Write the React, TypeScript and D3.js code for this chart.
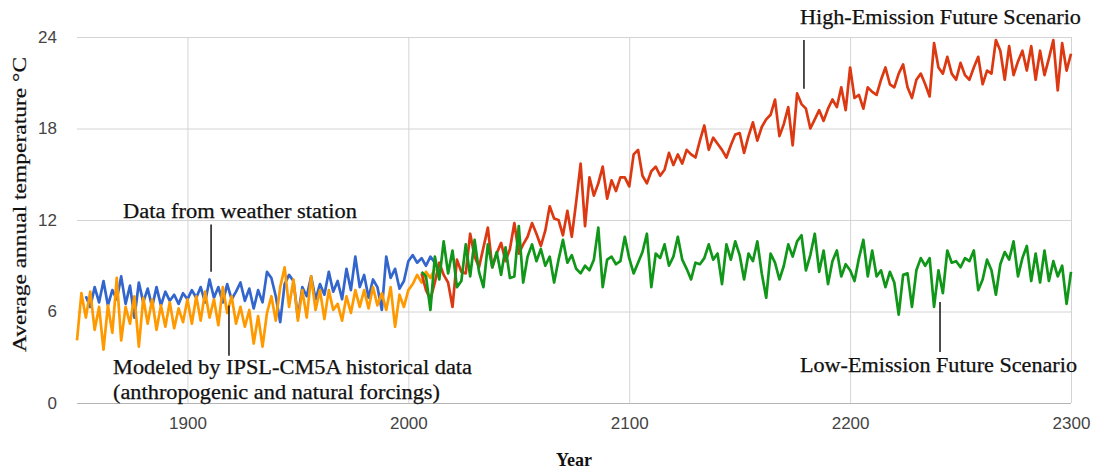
import React, { useEffect, useRef } from 'react';
import * as d3 from 'd3';

// yearly samples, every 2 years
const STEP = 2;
const MODELED_START = 1850;
const STATION_START = 1854;
const FUTURE_START = 2006;

// IPSL-CM5A historical run, 1850-2012
const modeled = [
  4.1, 7.2, 5.6, 7.3, 4.8, 6.3, 3.5, 6.4, 4.6, 8.2,
  4.1, 6.3, 5.2, 7.0, 3.7, 6.9, 5.2, 6.8, 4.8, 6.4,
  5.0, 6.6, 4.9, 6.2, 5.3, 6.8, 5.2, 7.0, 5.4, 7.3,
  5.6, 6.8, 5.1, 7.6, 5.9, 7.0, 5.2, 6.3, 5.0, 6.1,
  3.9, 5.7, 3.7, 5.9, 7.0, 5.4, 7.6, 8.9, 6.3, 8.1,
  5.4, 7.4, 5.6, 8.3, 6.1, 7.4, 5.5, 7.4, 6.1, 6.5,
  5.4, 7.0, 5.9, 7.4, 6.3, 7.4, 6.2, 7.6, 6.4, 7.2,
  6.1, 7.6, 5.0, 7.1, 6.3, 7.4, 7.8, 8.4, 7.9, 8.6,
  8.2, 8.8,
];

// weather station record, 1854-2012
const station = [
  7.0, 6.3, 7.6, 6.6, 8.0, 6.4, 7.4, 6.8, 8.3, 6.5,
  7.7, 5.6, 7.9, 6.6, 7.5, 6.3, 7.6, 6.4, 7.3, 6.7,
  7.1, 6.5, 7.2, 6.8, 7.4, 6.9, 7.6, 6.6, 8.1, 6.9,
  7.6, 6.6, 7.8, 6.8, 7.3, 7.9, 6.7, 7.5, 6.2, 7.4,
  6.6, 8.6, 8.2, 7.0, 5.3, 7.8, 8.4, 8.0, 5.6, 7.6,
  7.0, 8.3, 6.8, 7.8, 7.1, 8.6, 7.3, 8.0, 6.8, 8.8,
  7.4, 9.6, 7.6, 8.4, 6.9, 8.1, 7.6, 6.1, 9.6, 8.2,
  8.8, 7.5, 8.0, 9.3, 9.7, 9.2, 9.5, 9.0, 9.6, 9.2,
];

// 2006-2300
const highEmission = [
  8.5, 7.4, 6.8, 7.9, 9.2, 8.4, 7.9, 6.3, 9.4, 8.6,
  8.5, 11.1, 9.6, 8.9, 10.2, 11.5, 8.9, 9.8, 10.5, 9.3,
  10.1, 11.8, 9.8, 10.4, 10.9, 11.8, 11.1, 10.3, 11.3, 12.9,
  12.1, 12.0, 11.0, 12.6, 10.9, 13.2, 15.7, 11.6, 14.8, 13.6,
  14.4, 15.5, 13.4, 14.6, 13.9, 14.8, 14.8, 14.2, 16.3, 16.6,
  14.9, 14.4, 15.2, 15.5, 14.9, 15.3, 16.4, 15.6, 16.3, 15.7,
  16.6, 16.3, 16.1, 17.2, 18.2, 16.6, 17.4, 17.0, 16.6, 16.1,
  16.9, 17.6, 17.7, 16.4, 17.5, 18.4, 17.2, 18.1, 18.6, 18.9,
  19.9, 17.5, 18.3, 19.4, 16.9, 20.3, 19.6, 19.3, 18.0, 18.6,
  19.2, 18.5, 19.3, 19.9, 19.4, 20.7, 19.2, 22.0, 20.0, 20.2,
  19.3, 20.7, 20.4, 20.2, 21.2, 22.0, 20.9, 20.7, 21.6, 22.2,
  20.7, 20.0, 21.2, 21.6, 20.9, 20.1, 23.6, 22.0, 21.6, 22.7,
  21.6, 21.2, 22.3, 21.5, 21.2, 22.0, 22.7, 20.9, 21.8, 21.6,
  23.8, 23.1, 21.2, 23.4, 21.5, 22.4, 23.1, 21.8, 23.4, 21.2,
  23.1, 21.5, 22.6, 23.8, 20.5, 23.6, 21.8, 22.9,
];

const lowEmission = [
  8.6, 8.3, 6.1, 9.6, 8.1, 10.6, 8.5, 10.0, 7.6, 8.0,
  10.4, 8.3, 10.7, 8.6, 7.6, 10.4, 8.9, 9.9, 8.4, 10.2,
  8.2, 8.3, 11.6, 7.9, 9.6, 10.4, 9.3, 10.1, 9.0, 9.6,
  7.9, 9.4, 10.7, 9.2, 9.7, 8.8, 8.5, 9.0, 8.7, 9.4,
  11.5, 7.6, 9.4, 9.6, 9.1, 9.3, 10.9, 9.5, 8.5, 9.2,
  9.9, 11.1, 7.6, 9.8, 9.5, 10.4, 9.0, 9.6, 10.9, 9.4,
  8.8, 8.1, 9.2, 9.1, 9.5, 10.4, 9.4, 9.8, 7.8, 10.4,
  9.4, 10.6, 9.7, 8.1, 9.8, 9.3, 10.6, 8.5, 6.9, 9.8,
  9.2, 8.1, 9.0, 10.4, 9.6, 10.6, 11.0, 8.7, 9.7, 11.1,
  8.6, 10.0, 7.8, 9.3, 10.0, 8.3, 9.1, 8.7, 8.0, 9.5,
  10.7, 8.3, 10.0, 8.3, 8.7, 7.6, 8.6, 7.9, 5.8, 8.4,
  8.5, 6.3, 8.7, 9.5, 9.0, 9.5, 6.3, 8.7, 7.2, 10.0,
  9.2, 9.3, 8.9, 9.5, 9.3, 10.0, 7.4, 8.1, 9.4, 8.7,
  7.1, 9.1, 9.9, 9.4, 10.6, 8.3, 9.5, 10.3, 8.0, 9.8,
  7.9, 10.0, 8.0, 9.3, 8.3, 9.0, 6.5, 8.6,
];

const xTicks = [1900, 2000, 2100, 2200, 2300];
const yTicks = [0, 6, 12, 18, 24];

const series = [
  { key: 'station', start: STATION_START, values: station, color: '#3366cc' },
  { key: 'modeled', start: MODELED_START, values: modeled, color: '#ff9900' },
  { key: 'high', start: FUTURE_START, values: highEmission, color: '#dc3912' },
  { key: 'low', start: FUTURE_START, values: lowEmission, color: '#109618' },
];

const W = 1094;
const H = 470;
const margin = { top: 37, right: 23, bottom: 67, left: 77 };
const serif = '"Liberation Serif", "Times New Roman", serif';
const sans = '"Liberation Sans", Arial, sans-serif';

export default function App() {
  const svgRef = useRef<SVGSVGElement>(null);

  useEffect(() => {
    const svg = d3.select(svgRef.current);
    svg.selectAll('*').remove();

    const w = W - margin.left - margin.right;
    const h = H - margin.top - margin.bottom;

    const x = d3.scaleLinear().domain([1850, 2300]).range([0, w]);
    const y = d3.scaleLinear().domain([0, 24]).range([h, 0]);

    const g = svg.append('g').attr('transform', `translate(${margin.left},${margin.top})`);

    // horizontal grid
    g.append('g')
      .call(d3.axisLeft(y).tickValues(yTicks).tickSize(-w).tickFormat(() => ''))
      .call(s => s.select('.domain').remove())
      .selectAll('line')
      .attr('stroke', (d: any) => (d === 0 ? '#b5b5b5' : '#d4d4d4'));

    // vertical grid
    g.append('g')
      .attr('transform', `translate(0,${h})`)
      .call(d3.axisBottom(x).tickValues(xTicks).tickSize(-h).tickFormat(() => ''))
      .call(s => s.select('.domain').remove())
      .selectAll('line')
      .attr('stroke', '#d4d4d4');

    // y labels
    g.append('g')
      .call(d3.axisLeft(y).tickValues(yTicks).tickSize(0).tickPadding(20))
      .call(s => s.select('.domain').remove())
      .selectAll('text')
      .attr('fill', '#444')
      .style('font-family', sans)
      .style('font-size', '17px');

    // x labels
    g.append('g')
      .attr('transform', `translate(0,${h})`)
      .call(d3.axisBottom(x).tickValues(xTicks).tickSize(0).tickPadding(14).tickFormat(d3.format('d')))
      .call(s => s.select('.domain').remove())
      .selectAll('text')
      .attr('fill', '#444')
      .style('font-family', sans)
      .style('font-size', '17px');

    // series lines, later ones drawn on top
    series.forEach(s => {
      const ln = d3.line<number>()
        .x((_, i) => x(s.start + i * STEP))
        .y(v => y(v));
      g.append('path')
        .datum(s.values)
        .attr('fill', 'none')
        .attr('stroke', s.color)
        .attr('stroke-width', 2.7)
        .attr('stroke-linejoin', 'round')
        .attr('d', ln);
    });

    // annotations
    const notes = [
      { text: 'High-Emission Future Scenario', year: 2177.3, base: 24.85, len: 281 },
      { text: 'Data from weather station', year: 1870.8, base: 12.13, len: 234 },
      { text: 'Modeled by IPSL-CM5A historical data', year: 1866.3, base: 1.9, len: 359 },
      { text: '(anthropogenic and natural forcings)', year: 1866.3, base: 0.26, len: 327 },
      { text: 'Low-Emission Future Scenario', year: 2177.3, base: 2.03, len: 277 },
    ];
    notes.forEach(n => {
      g.append('text')
        .attr('x', x(n.year))
        .attr('y', y(n.base))
        .attr('textLength', n.len)
        .attr('lengthAdjust', 'spacingAndGlyphs')
        .style('font-family', serif)
        .style('font-size', '20px')
        .attr('fill', '#111')
        .attr('stroke', '#111')
        .attr('stroke-width', 0.25)
        .text(n.text);
    });

    const pointers = [
      { year: 2179.1, from: 23.8, to: 20.6 },
      { year: 1910.7, from: 11.7, to: 8.6 },
      { year: 1918.8, from: 6.4, to: 3.1 },
      { year: 2240.7, from: 6.62, to: 3.34 },
    ];
    pointers.forEach(p => {
      g.append('line')
        .attr('x1', x(p.year)).attr('x2', x(p.year))
        .attr('y1', y(p.from)).attr('y2', y(p.to))
        .attr('stroke', '#222')
        .attr('stroke-width', 1.6);
    });

    // axis titles
    svg.append('text')
      .attr('transform', `translate(26,${margin.top + y(13.02)}) rotate(-90)`)
      .attr('text-anchor', 'middle')
      .attr('textLength', 295)
      .attr('lengthAdjust', 'spacingAndGlyphs')
      .style('font-family', serif)
      .style('font-size', '19px')
      .attr('fill', '#111')
      .attr('stroke', '#111')
      .attr('stroke-width', 0.2)
      .text('Average annual temperature \u00B0C');

    svg.append('text')
      .attr('x', margin.left + x(2075))
      .attr('y', 466)
      .attr('text-anchor', 'middle')
      .attr('textLength', 36)
      .attr('lengthAdjust', 'spacingAndGlyphs')
      .style('font-family', serif)
      .style('font-size', '19px')
      .style('font-weight', 'bold')
      .attr('fill', '#111')
      .text('Year');
  }, []);

  return (
    <div style={{ position: 'absolute', left: 0, top: 0, width: W, height: H, background: '#fff' }}>
      <svg ref={svgRef} width={W} height={H} style={{ display: 'block' }} />
    </div>
  );
}
